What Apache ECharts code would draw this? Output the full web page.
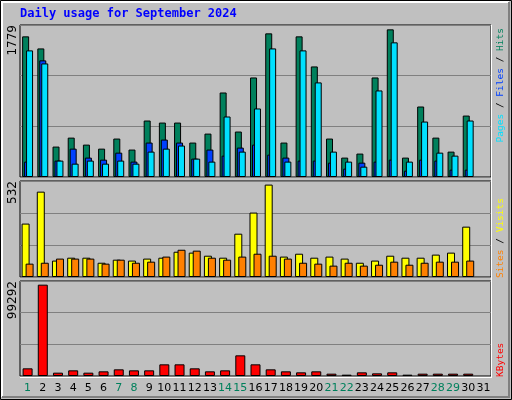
<!DOCTYPE html>
<html><head><meta charset="utf-8">
<script src="https://cdn.jsdelivr.net/npm/echarts@6/dist/echarts.min.js"></script>
<style>html,body{margin:0;padding:0;background:#c0c0c0}#c{width:512px;height:400px}</style>
</head><body><div id="c"></div>
<script>
const days = ['1','2','3','4','5','6','7','8','9','10','11','12','13','14','15','16','17','18','19','20','21','22','23','24','25','26','27','28','29','30','31'];
const weekendDays = ['1','7','8','14','15','21','22','28','29'];
const hits  = [1646,1505,356,461,379,332,450,321,661,637,637,403,508,989,532,1165,1681,403,1646,1294,450,227,274,1165,1728,227,825,461,297,719,null];
const files = [180,1365,192,332,227,203,285,180,403,438,403,215,321,250,344,379,262,227,192,192,168,98,168,180,203,74,203,192,86,86,null];
const pages = [1482,1329,192,156,192,156,192,156,297,332,368,215,180,708,297,802,1505,180,1482,1107,297,180,121,1013,1576,180,649,285,250,661,null];
const visits = [296,473,91,107,107,79,96,91,102,107,140,135,118,107,240,357,512,113,129,107,113,102,79,91,118,107,107,124,135,279,null];
const sites  = [74,79,102,102,102,74,96,79,85,113,151,146,107,96,113,129,118,102,79,74,63,79,63,68,85,68,79,85,85,91,null];
const kbytes = [8013,95458,3484,5923,3484,4878,6968,5923,5923,12194,12194,8013,4878,5923,21601,12194,6968,4878,3832,4878,2439,1394,3832,2787,3832,1394,2439,2439,2439,2439,null];
const maxTop = 1779, maxMid = 532, maxBot = 99292;

const chart = echarts.init(document.getElementById('c'));
const grids = [{left:20,right:21,top:25,height:152},{left:20,right:21,top:181,height:96},{left:20,right:21,top:281,height:95}];
const xAxes = grids.map((g,i)=>({gridIndex:i,type:'category',data:days,
  axisLine:{show:false},axisTick:{show:false},
  axisLabel:{show:i===2,interval:0,margin:7,fontFamily:'DejaVu Sans',fontSize:11,
    color:(v)=>weekendDays.includes(v)?'#00805c':'#000'}}));
const maxes=[maxTop,maxMid,maxBot];
const yAxes = maxes.map((m,i)=>({gridIndex:i,type:'value',min:0,max:m,interval:m/3,
  axisLabel:{show:false},axisLine:{show:false},axisTick:{show:false},
  splitLine:{lineStyle:{color:'#808080',width:1}}}));
const bs={borderColor:'#000',borderWidth:1};
function bar(name,data,gi,color,w,gap){return {name,type:'bar',data,xAxisIndex:gi,yAxisIndex:gi,barWidth:w,barGap:gap,
  itemStyle:Object.assign({color},bs),animation:false,silent:true};}
const RF='9.5px DejaVu Sans Mono';
chart.setOption({
  animation:false,
  grid:grids.map(g=>Object.assign({show:true,borderColor:'#000',borderWidth:1,backgroundColor:'#c0c0c0'},g)),
  xAxis:xAxes,yAxis:yAxes,
  series:[
    bar('Hits',hits,0,'#00805c',7,'-72%'),
    bar('Files',files,0,'#0040ff',7,'-72%'),
    bar('Pages',pages,0,'#00e0ff',7,'-72%'),
    bar('Visits',visits,1,'#ffff00',8,'-50%'),
    bar('Sites',sites,1,'#ff8000',8,'-50%'),
    bar('KBytes',kbytes,2,'#ff0000',10,'0%')
  ],
  graphic:[
    {type:'rect',shape:{x:0.5,y:0.5,width:511,height:399},style:{fill:'none',stroke:'#000',lineWidth:1},silent:true},
    {type:'polyline',shape:{points:[[2,397],[2,2],[509,2]]},style:{stroke:'#fff',lineWidth:2,fill:'none'},silent:true},
    {type:'polyline',shape:{points:[[509,2],[509,397],[2,397]]},style:{stroke:'#808080',lineWidth:2,fill:'none'},silent:true},
    {type:'line',shape:{x1:491.5,y1:25,x2:491.5,y2:377},style:{stroke:'#fff',lineWidth:1},silent:true},
    {type:'line',shape:{x1:20,y1:377.5,x2:492,y2:377.5},style:{stroke:'#fff',lineWidth:1},silent:true},
    {type:'text',left:20,top:8,style:{text:'Daily usage for September 2024',fill:'#0000ff',font:'bold 12px DejaVu Sans Mono'}},
    {type:'text',x:19,y:25,rotation:Math.PI/2,style:{text:String(maxTop),fill:'#000',font:'12px DejaVu Sans',align:'right',verticalAlign:'bottom'}},
    {type:'text',x:19,y:181,rotation:Math.PI/2,style:{text:String(maxMid),fill:'#000',font:'12px DejaVu Sans',align:'right',verticalAlign:'bottom'}},
    {type:'text',x:19,y:281,rotation:Math.PI/2,style:{text:String(maxBot),fill:'#000',font:'12px DejaVu Sans',align:'right',verticalAlign:'bottom'}},
    {type:'text',x:506,y:28,rotation:Math.PI/2,style:{rich:{p:{fill:'#00e0ff',font:RF},s:{fill:'#000',font:RF},f:{fill:'#0040ff',font:RF},h:{fill:'#00805c',font:RF}},text:'{p|Pages}{s| / }{f|Files}{s| / }{h|Hits}',font:RF,align:'right',verticalAlign:'bottom'}},
    {type:'text',x:506,y:198,rotation:Math.PI/2,style:{rich:{a:{fill:'#ff8000',font:RF},s:{fill:'#000',font:RF},b:{fill:'#ffff00',font:RF}},text:'{a|Sites}{s| / }{b|Visits}',font:RF,align:'right',verticalAlign:'bottom'}},
    {type:'text',x:506,y:377,rotation:Math.PI/2,style:{text:'KBytes',fill:'#ff0000',font:RF,align:'left',verticalAlign:'bottom'}}
  ]
});
</script></body></html>
